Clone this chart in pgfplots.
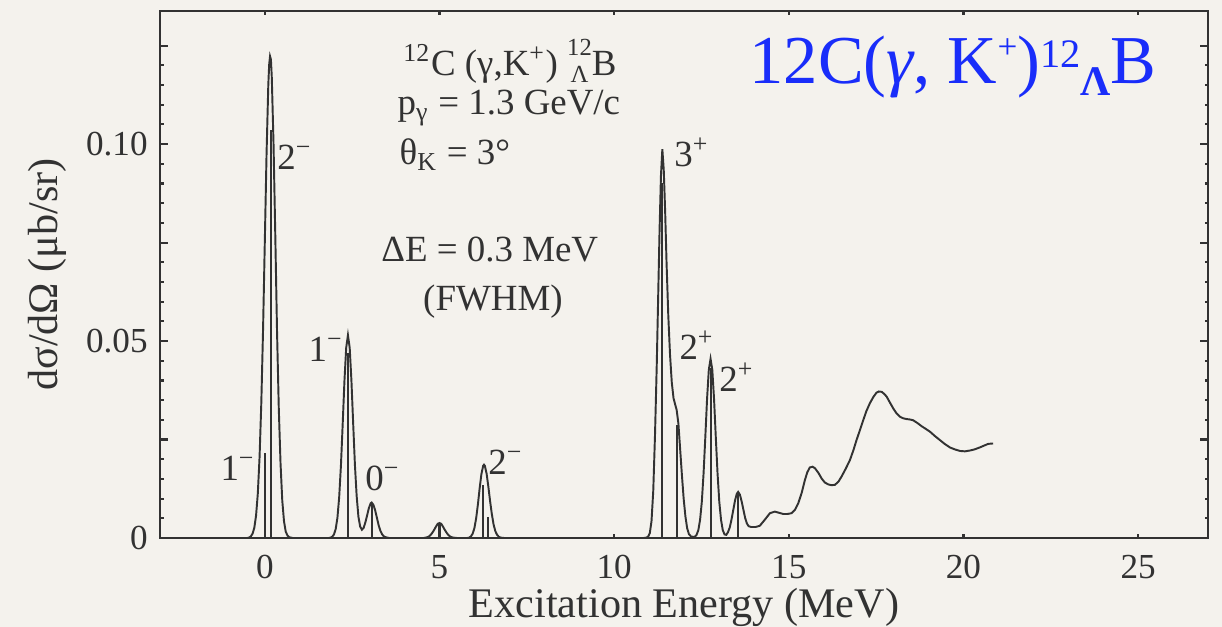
\documentclass[border=0pt]{standalone}
\usepackage{fontspec}
\setmainfont{Liberation Serif}
\usepackage{pgfplots}
\pgfplotsset{compat=1.18}
\definecolor{bg}{RGB}{244,242,237}
\definecolor{ink}{RGB}{50,50,50}
\definecolor{titleblue}{RGB}{25,45,250}

\pgfplotstableread{
E s
-0.60 0
-0.50 0.0000
-0.45 0.0001
-0.40 0.0004
-0.35 0.0011
-0.30 0.0026
-0.25 0.0057
-0.20 0.0113
-0.15 0.0205
-0.10 0.0343
-0.05 0.0529
0.00 0.0751
0.05 0.0975
0.10 0.1150
0.125 0.1202
0.15 0.1223
0.175 0.1215
0.20 0.1170
0.25 0.1000
0.30 0.0770
0.35 0.0525
0.40 0.0330
0.45 0.0190
0.50 0.0095
0.55 0.0042
0.60 0.0016
0.65 0.0006
0.70 0.0002
0.80 0
1.83 0
1.88 0.0001
1.93 0.0003
1.98 0.0009
2.03 0.0023
2.08 0.0052
2.13 0.0105
2.18 0.0185
2.23 0.0290
2.28 0.0399
2.33 0.0483
2.38 0.0515
2.43 0.0483
2.48 0.0399
2.53 0.0290
2.58 0.0185
2.63 0.0106
2.68 0.0054
2.73 0.0029
2.78 0.0021
2.83 0.0026
2.88 0.0040
2.93 0.0058
2.98 0.0076
3.03 0.0088
3.06 0.0090
3.11 0.0084
3.16 0.0070
3.21 0.0051
3.26 0.0032
3.31 0.0018
3.36 0.0009
3.41 0.0004
3.46 0.0002
3.56 0
4.55 0
4.60 0.0001
4.65 0.0002
4.70 0.0004
4.75 0.0008
4.80 0.0014
4.85 0.0021
4.90 0.0029
4.95 0.0036
5.00 0.0038
5.05 0.0036
5.10 0.0029
5.15 0.0021
5.20 0.0014
5.25 0.0008
5.30 0.0004
5.35 0.0002
5.40 0.0001
5.50 0
5.80 0
5.85 0.0001
5.90 0.0004
5.95 0.0011
6.00 0.0025
6.05 0.0050
6.10 0.0085
6.15 0.0126
6.20 0.0162
6.25 0.0183
6.275 0.0186
6.30 0.0183
6.35 0.0163
6.40 0.0130
6.45 0.0093
6.50 0.0060
6.55 0.0034
6.60 0.0017
6.65 0.0008
6.70 0.0003
6.75 0.0001
6.85 0
10.85 0
10.92 0.0001
10.97 0.0003
11.02 0.0012
11.07 0.0043
11.12 0.0120
11.17 0.0262
11.22 0.0440
11.26 0.0610
11.30 0.0780
11.34 0.0920
11.38 0.0987
11.42 0.0935
11.46 0.0830
11.50 0.0700
11.55 0.0565
11.60 0.0465
11.65 0.0395
11.70 0.0355
11.75 0.0338
11.79 0.0325
11.84 0.0290
11.89 0.0225
11.94 0.0160
11.99 0.0100
12.04 0.0055
12.09 0.0025
12.14 0.0010
12.20 0.0004
12.26 0.0003
12.31 0.0003
12.36 0.0008
12.41 0.0020
12.46 0.0046
12.51 0.0092
12.56 0.0164
12.61 0.0256
12.66 0.0353
12.71 0.0427
12.76 0.0455
12.81 0.0427
12.86 0.0353
12.91 0.0256
12.96 0.0164
13.01 0.0092
13.06 0.0046
13.11 0.0020
13.16 0.0009
13.21 0.0008
13.26 0.0015
13.31 0.0027
13.36 0.0047
13.41 0.0071
13.46 0.0095
13.51 0.0112
13.55 0.0117
13.60 0.0110
13.65 0.0093
13.70 0.0072
13.75 0.0051
13.80 0.0037
13.85 0.0030
13.92 0.0028
14.05 0.0028
14.17 0.0031
14.30 0.0045
14.46 0.0063
14.60 0.0067
14.72 0.0064
14.84 0.0061
14.96 0.0061
15.08 0.0063
15.18 0.0072
15.27 0.0088
15.37 0.0115
15.46 0.0147
15.53 0.0167
15.60 0.0179
15.68 0.0181
15.75 0.0177
15.85 0.0165
15.94 0.0151
16.03 0.0141
16.13 0.0136
16.22 0.0134
16.32 0.0135
16.42 0.0143
16.51 0.0156
16.63 0.0176
16.75 0.0198
16.85 0.0223
16.94 0.0249
17.04 0.0275
17.13 0.0299
17.22 0.0322
17.32 0.0342
17.42 0.0358
17.51 0.0369
17.58 0.0372
17.66 0.0371
17.73 0.0366
17.80 0.0359
17.90 0.0343
17.99 0.0329
18.08 0.0317
18.18 0.0308
18.27 0.0304
18.37 0.0302
18.46 0.0301
18.56 0.0299
18.68 0.0292
18.80 0.0284
18.92 0.0277
19.04 0.0270
19.18 0.0259
19.32 0.0249
19.46 0.0239
19.61 0.0230
19.75 0.0225
19.90 0.0221
20.04 0.0220
20.18 0.0222
20.32 0.0225
20.47 0.0230
20.60 0.0235
20.71 0.0239
20.85 0.0240
}\envelope

\pgfplotstableread{
E s
0.00 0.0216
0.17 0.1036
2.38 0.0470
3.06 0.0090
5.00 0.0038
6.24 0.0135
6.38 0.0053
11.38 0.0901
11.79 0.0287
12.76 0.0431
13.55 0.0117
}\sticks

\begin{document}
\begin{tikzpicture}
\fill[bg] (0,0) rectangle (122.2mm,62.7mm);
\begin{axis}[
  at={(16mm,8.9mm)}, anchor=south west,
  scale only axis, width=104.8mm, height=52.7mm,
  xmin=-3, xmax=27, ymin=0, ymax=0.1338,
  axis line style={ink, line width=0.8pt},
  xtick={0,5,10,15,20,25},
  ytick={0,0.025,0.05,0.075,0.1,0.125},
  yticklabels={0,,0.05,,0.10,},
  minor y tick num=4,
  tick align=inside,
  major tick length=0.8mm, minor tick length=0.35mm,
  tick style={ink, line width=0.6pt},
  xtick style={/pgfplots/major tick length=0.4mm},
  /pgf/number format/assume math mode=true,
  ticklabel style={font=\fontsize{10}{12}\selectfont, text=ink},
  xticklabel style={yshift=-0.5mm},
  xlabel={Excitation Energy (MeV)},
  ylabel={dσ/dΩ (μb/sr)},
  label style={font=\fontsize{12}{14}\selectfont, text=ink},
  xlabel style={at={(axis description cs:0.5,0)}, anchor=base, yshift=-7.9mm},
  ylabel style={at={(axis description cs:-0.1078,0.5)}, anchor=center},
]
\addplot[ink, line width=0.55pt] table[x=E, y=s] {\envelope};
\addplot[ink, line width=0.6pt, ycomb] table[x=E, y=s] {\sticks};

\begin{scope}[every node/.style={font=\fontsize{10.5}{12}\selectfont, text=ink, inner sep=0pt}]
\node at (axis cs:-0.77,0.0178) {1\textsuperscript{−}};
\node at (axis cs:0.86,0.0967) {2\textsuperscript{−}};
\node at (axis cs:1.75,0.0480) {1\textsuperscript{−}};
\node at (axis cs:3.38,0.0152) {0\textsuperscript{−}};
\node at (axis cs:6.90,0.0193) {2\textsuperscript{−}};
\node at (axis cs:12.22,0.0980) {3\textsuperscript{+}};
\node at (axis cs:12.37,0.0490) {2\textsuperscript{+}};
\node at (axis cs:13.51,0.0409) {2\textsuperscript{+}};
\node[anchor=base west] at (axis cs:3.95,0.1175) {\textsuperscript{12}C (γ,K\textsuperscript{+}) \raisebox{-2pt}{\fontsize{7}{6.25}\selectfont\shortstack{12\\Λ}}B};
\node[anchor=base west] at (axis cs:3.78,0.1074) {p\textsubscript{γ} = 1.3 GeV/c};
\node[anchor=base west] at (axis cs:3.84,0.0947) {θ\textsubscript{K} = 3°};
\node[anchor=base] at (axis cs:6.44,0.0701) {ΔE = 0.3 MeV};
\node[anchor=base] at (axis cs:6.53,0.0578) {(FWHM)};
\end{scope}

\node[anchor=base west, inner sep=0pt, text=titleblue, font=\fontsize{19.5}{22}\selectfont] at (axis cs:13.86,0.1155)
  {12C({\itshape γ}, K\raisebox{2.5mm}{\fontsize{10}{11}\selectfont +})\raisebox{1.6mm}{\fontsize{11.5}{12}\selectfont 12}\raisebox{-1.2mm}{\fontsize{12}{12}\selectfont\bfseries Λ}B};
\end{axis}
\pgfresetboundingbox
\useasboundingbox (0,0) rectangle (122.2mm,62.7mm);
\end{tikzpicture}
\end{document}
